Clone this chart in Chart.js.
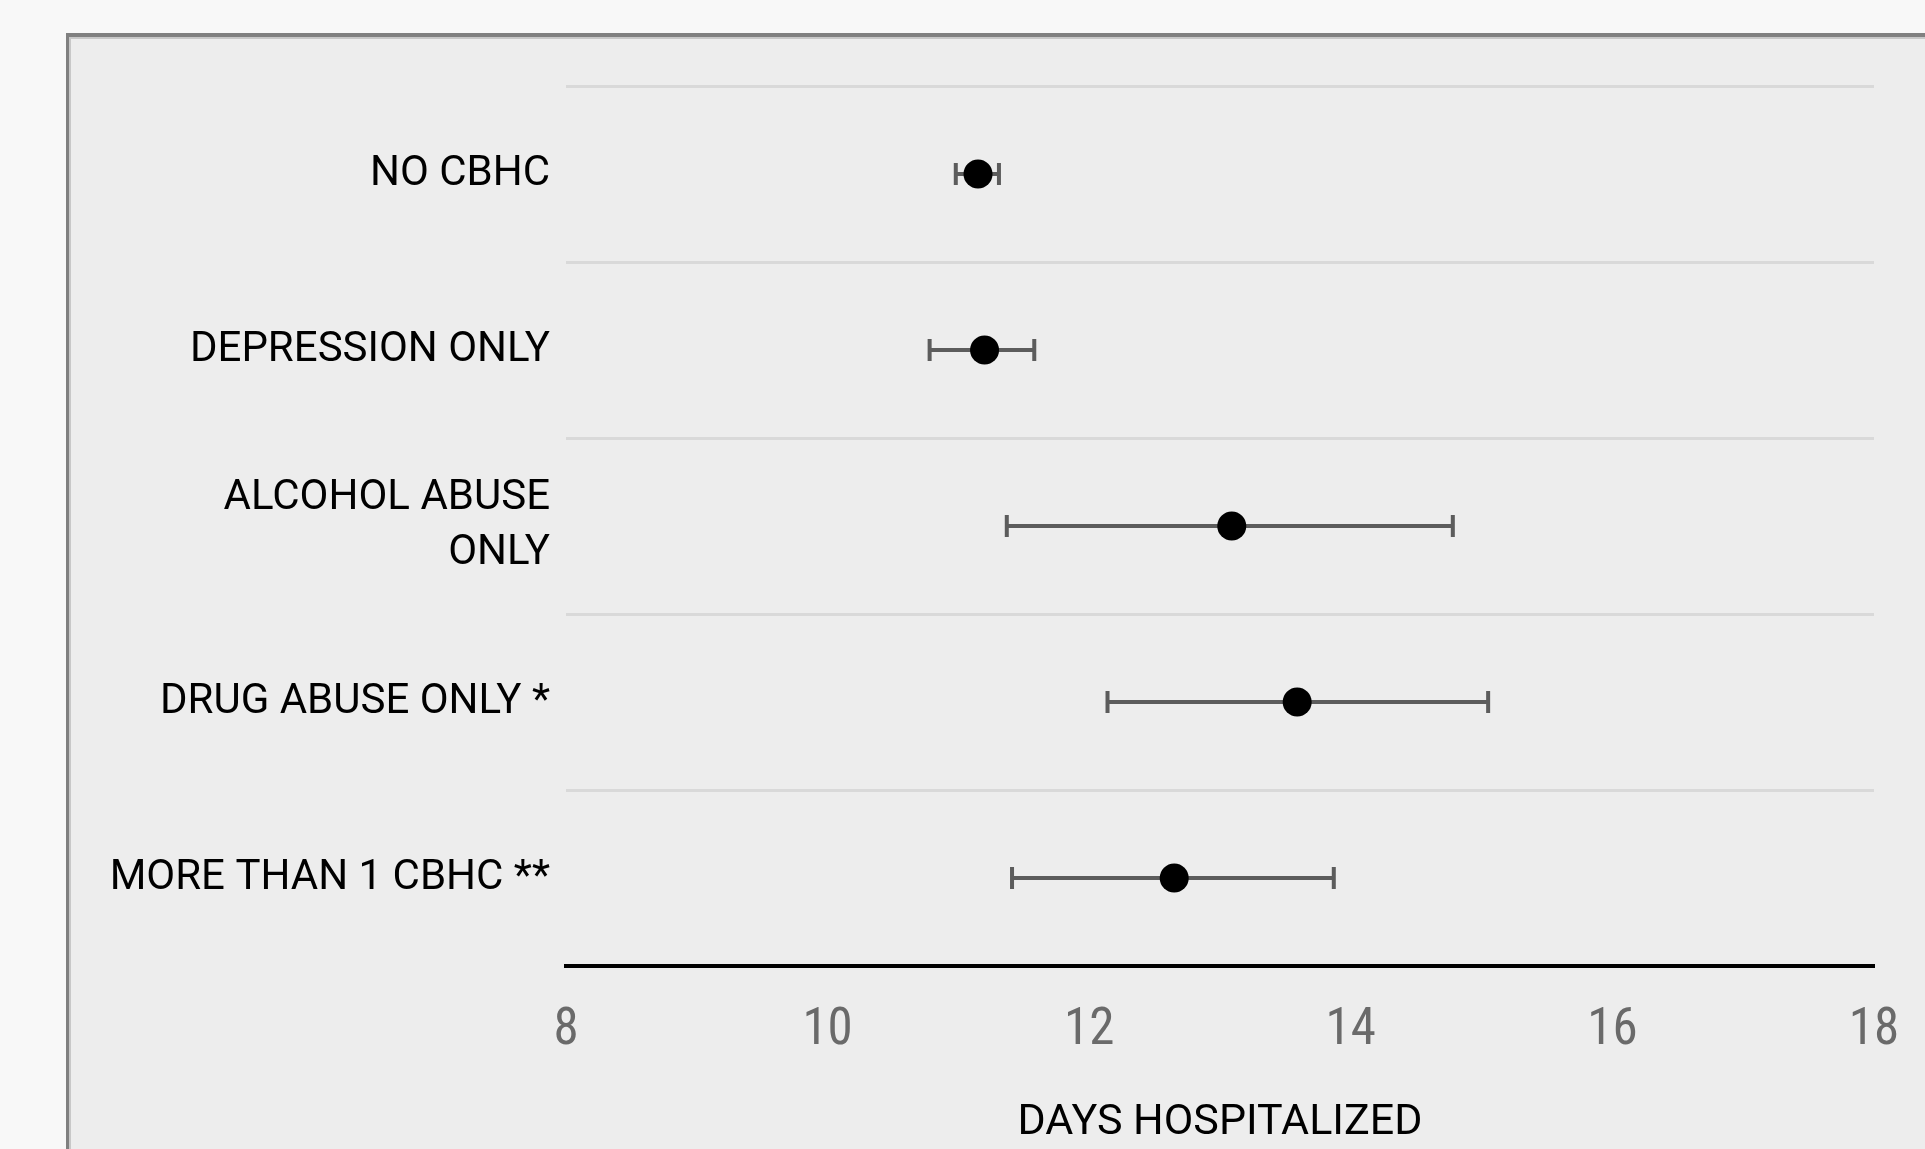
<!DOCTYPE html>
<html>
<head>
<meta charset="utf-8">
<script src="https://cdn.jsdelivr.net/npm/chart.js@4.4.0/dist/chart.umd.min.js"></script>
<style>
  html, body { margin: 0; padding: 0; background: #f8f8f8; overflow: hidden; }
  #panel {
    position: absolute; left: 66px; top: 33px; width: 2000px; height: 1300px;
    background: #ededed;
    border-left: 3px solid #808080; border-top: 4px solid #808080;
    box-shadow: inset 2px 2px 0 #c8c8c8;
  }
  #graph { position: absolute; left: 0; top: 0; }
</style>
</head>
<body>
<div id="panel"></div>
<canvas id="graph" width="1925" height="1149"></canvas>
<script>
var ctx = document.getElementById("graph").getContext("2d")

// data
var categories = ["NO CBHC", "DEPRESSION ONLY", ["ALCOHOL ABUSE", "ONLY"], "DRUG ABUSE ONLY *", "MORE THAN 1 CBHC **"];
var means = [11.15, 11.20, 13.09, 13.59, 12.65];
var lower = [10.98, 10.78, 11.37, 12.14, 11.41];
var upper = [11.31, 11.58, 14.78, 15.05, 13.87];
var xTicks = [8, 10, 12, 14, 16, 18];

// whiskers drawn under the points, placed with the chart's own scales
var errorBars = {
    id: "errorBars",
    beforeDatasetsDraw(chart) {
        let x = chart.scales.x, y = chart.scales.y;
        let c = chart.ctx;
        c.save();
        c.strokeStyle = "#5c5c5c";
        c.lineWidth = 4;
        for (let i = 0; i < means.length; i++) {
            let py = y.getPixelForValue(i);
            let x0 = x.getPixelForValue(lower[i]);
            let x1 = x.getPixelForValue(upper[i]);
            c.beginPath();
            c.moveTo(x0, py); c.lineTo(x1, py);
            c.moveTo(x0, py - 11); c.lineTo(x0, py + 11);
            c.moveTo(x1, py - 11); c.lineTo(x1, py + 11);
            c.stroke();
        }
        c.restore();
    }
};

var chart = new Chart(ctx, {
    type: "line",
    data: {
        labels: categories,
        datasets: [{
            data: means,
            showLine: false,
            pointRadius: 14.5,
            pointBackgroundColor: "#000",
            pointBorderColor: "#000",
            pointBorderWidth: 0
        }]
    },
    plugins: [errorBars],
    options: {
        indexAxis: "y",
        responsive: false,
        animation: false,
        devicePixelRatio: 1,
        layout: { padding: { top: 86, right: 51, left: 0, bottom: 0 } },
        plugins: { legend: { display: false }, tooltip: { enabled: false } },
        scales: {
            x: {
                type: "linear",
                min: 8,
                max: 18,
                afterBuildTicks: s => { s.ticks = xTicks.map(v => ({ value: v })); },
                afterFit: s => { s.height = 183; s.paddingLeft = 0; s.paddingRight = 0; },
                grid: { display: true, drawOnChartArea: false, drawTicks: false },
                border: { display: true, color: "#000", width: 4 },
                ticks: {
                    padding: 35,
                    color: "#6a6a6a",
                    font: { style: "condensed", family: "'Roboto Condensed', 'DejaVu Sans Condensed', 'Liberation Sans Narrow', Roboto", size: 51 }
                },
                title: {
                    display: true,
                    text: "DAYS HOSPITALIZED",
                    color: "#000",
                    padding: { top: 33, bottom: 0 },
                    font: { family: "Roboto", size: 43 }
                }
            },
            y: {
                type: "category",
                offset: true,
                afterFit: s => { s.width = 566; },
                grid: { offset: true, color: "#d9d9d9", lineWidth: 3, drawTicks: false },
                border: { display: false },
                ticks: {
                    padding: 16,
                    color: "#000",
                    font: { family: "Roboto", size: 42, lineHeight: 1.3 }
                }
            }
        }
    }
});
</script>
</body>
</html>
